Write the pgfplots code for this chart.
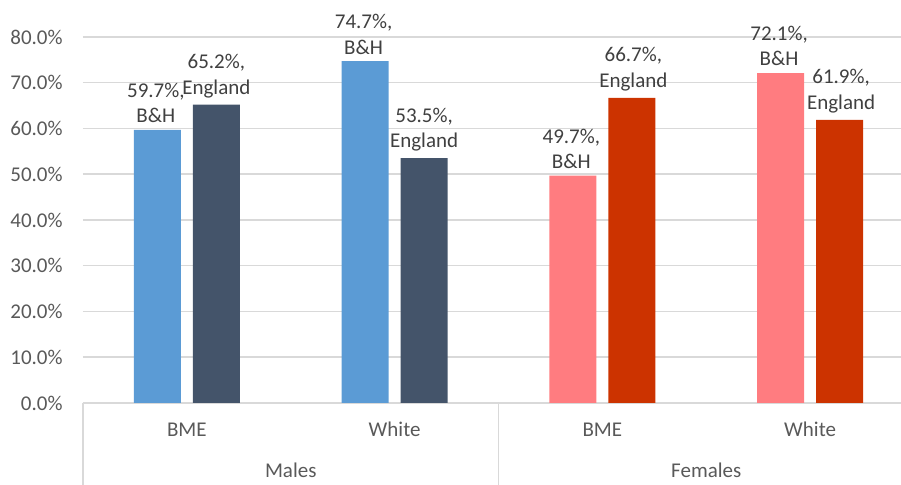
\documentclass[border=0pt]{standalone}
\usepackage{fontspec}
\setmainfont{Carlito}
\usepackage{pgfplots}
\pgfplotsset{compat=1.18}

\definecolor{bhmale}{HTML}{5B9BD5}
\definecolor{engmale}{HTML}{44546A}
\definecolor{bhfemale}{HTML}{FF7C80}
\definecolor{engfemale}{HTML}{CC3300}
\definecolor{txt}{HTML}{595959}
\definecolor{lbl}{HTML}{404040}
\definecolor{gridc}{HTML}{D9D9D9}

\begin{document}
\begin{tikzpicture}[font=\fontsize{10.5}{12.6}\selectfont]
\begin{axis}[
  scale only axis, width=415.5pt, height=183pt,
  xmin=0, xmax=4, ymin=0, ymax=80,
  axis x line*=bottom, axis y line*=left,
  y axis line style={draw=none},
  x axis line style={draw=gridc, line width=0.75pt},
  ymajorgrids, grid style={draw=gridc, line width=0.75pt},
  ytick={0,10,20,30,40,50,60,70,80},
  xtick={0.5,1.5,2.5,3.5},
  xticklabels={BME,White,BME,White},
  major tick length=0pt, tick style={draw=none},
  /pgf/number format/assume math mode=true,
  yticklabel={\pgfmathprintnumber[fixed,fixed zerofill,precision=1]{\tick}\%},
  yticklabel style={anchor=east, inner sep=0pt, xshift=-10pt, text=txt},
  xticklabel style={anchor=base, inner sep=0pt, yshift=-16.75pt, text=txt},
  every node near coord/.append style={align=center, text=lbl},
  clip=false,
]
% Males: B&H and England
\addplot[ybar, bar width=23.5pt, bar shift=-14.75pt, fill=bhmale, draw=none,
  every node near coord/.append style={xshift=-15.5pt},
  nodes near coords={\pgfmathprintnumber[fixed,fixed zerofill,precision=1]{\pgfplotspointmeta}\%,\\B\&H}]
  coordinates {(0.5,59.7) (1.5,74.7)};
\addplot[ybar, bar width=23.5pt, bar shift=14.75pt, fill=engmale, draw=none,
  every node near coord/.append style={xshift=14.75pt},
  nodes near coords={\pgfmathprintnumber[fixed,fixed zerofill,precision=1]{\pgfplotspointmeta}\%,\\England}]
  coordinates {(0.5,65.2) (1.5,53.5)};
% Females: B&H and England
\addplot[ybar, bar width=23.5pt, bar shift=-14.75pt, fill=bhfemale, draw=none,
  every node near coord/.append style={xshift=-15.5pt},
  nodes near coords={\pgfmathprintnumber[fixed,fixed zerofill,precision=1]{\pgfplotspointmeta}\%,\\B\&H}]
  coordinates {(2.5,49.7) (3.5,72.1)};
\addplot[ybar, bar width=23.5pt, bar shift=14.75pt, fill=engfemale, draw=none,
  every node near coord/.append style={xshift=15.5pt},
  nodes near coords={\pgfmathprintnumber[fixed,fixed zerofill,precision=1]{\pgfplotspointmeta}\%,\\England}]
  coordinates {(2.5,66.7) (3.5,61.9)};

% outer category level: separators and group names
\draw[gridc, line width=0.75pt] (axis cs:0,0) -- ++(0pt,-50pt);
\draw[gridc, line width=0.75pt] (axis cs:2,0) -- ++(0pt,-50pt);
\draw[gridc, line width=0.75pt] (axis cs:4,0) -- ++(0pt,-50pt);
\node[anchor=base, text=txt] at ([yshift=-37.25pt]axis cs:1,0) {Males};
\node[anchor=base, text=txt] at ([yshift=-37.25pt]axis cs:3,0) {Females};

\coordinate (sw) at (rel axis cs:0,0);
\coordinate (ne) at (rel axis cs:1,1);
\end{axis}
\pgfresetboundingbox
\path[use as bounding box] ([xshift=-41.5pt,yshift=-41pt]sw) rectangle ([xshift=-6.5pt,yshift=18.5pt]ne);
\end{tikzpicture}
\end{document}
